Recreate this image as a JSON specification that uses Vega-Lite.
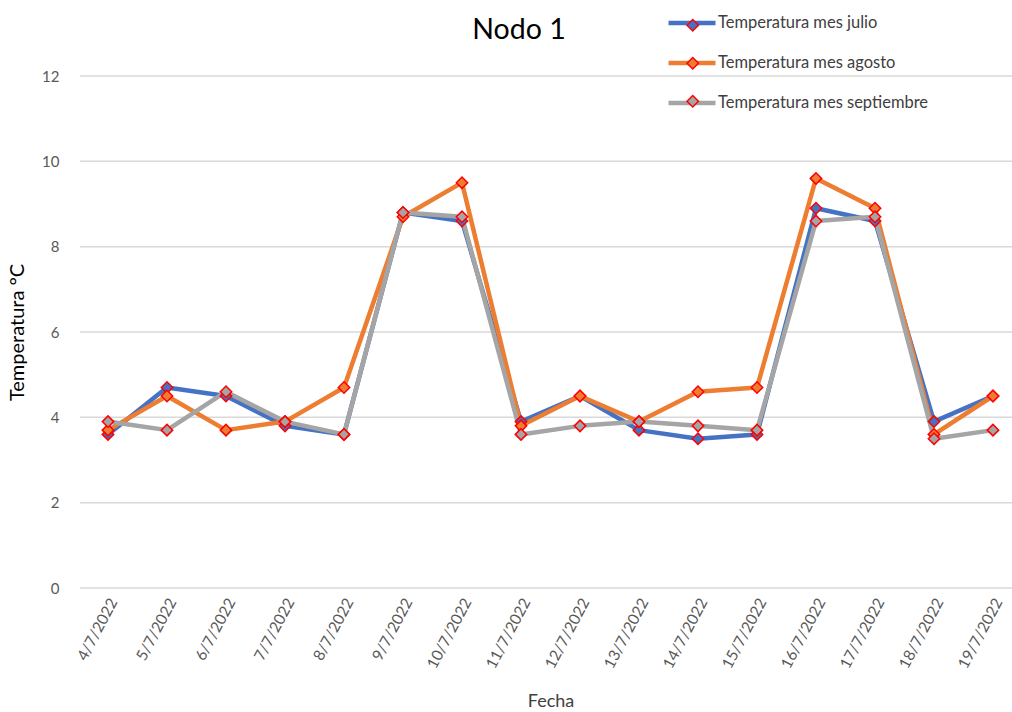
{
  "$schema": "https://vega.github.io/schema/vega-lite/v6.json",
  "autosize": {"type": "none"},
  "padding": {"left": 80, "top": 76, "right": 0, "bottom": 124},
  "width": 932,
  "height": 512,
  "background": "white",
  "config": {"font": "Lato", "view": {"stroke": null}},
  "title": {"text": "Nodo 1", "fontSize": 28.5, "fontWeight": "normal", "color": "#000000", "anchor": "middle", "dx": -27, "offset": -47, "font": "Lato"},
  "data": {"values": [
    {"fecha": "4/7/2022", "serie": "Temperatura mes julio", "temp": 3.6},
    {"fecha": "5/7/2022", "serie": "Temperatura mes julio", "temp": 4.7},
    {"fecha": "6/7/2022", "serie": "Temperatura mes julio", "temp": 4.5},
    {"fecha": "7/7/2022", "serie": "Temperatura mes julio", "temp": 3.8},
    {"fecha": "8/7/2022", "serie": "Temperatura mes julio", "temp": 3.6},
    {"fecha": "9/7/2022", "serie": "Temperatura mes julio", "temp": 8.8},
    {"fecha": "10/7/2022", "serie": "Temperatura mes julio", "temp": 8.6},
    {"fecha": "11/7/2022", "serie": "Temperatura mes julio", "temp": 3.9},
    {"fecha": "12/7/2022", "serie": "Temperatura mes julio", "temp": 4.5},
    {"fecha": "13/7/2022", "serie": "Temperatura mes julio", "temp": 3.7},
    {"fecha": "14/7/2022", "serie": "Temperatura mes julio", "temp": 3.5},
    {"fecha": "15/7/2022", "serie": "Temperatura mes julio", "temp": 3.6},
    {"fecha": "16/7/2022", "serie": "Temperatura mes julio", "temp": 8.9},
    {"fecha": "17/7/2022", "serie": "Temperatura mes julio", "temp": 8.6},
    {"fecha": "18/7/2022", "serie": "Temperatura mes julio", "temp": 3.9},
    {"fecha": "19/7/2022", "serie": "Temperatura mes julio", "temp": 4.5},
    {"fecha": "4/7/2022", "serie": "Temperatura mes agosto", "temp": 3.7},
    {"fecha": "5/7/2022", "serie": "Temperatura mes agosto", "temp": 4.5},
    {"fecha": "6/7/2022", "serie": "Temperatura mes agosto", "temp": 3.7},
    {"fecha": "7/7/2022", "serie": "Temperatura mes agosto", "temp": 3.9},
    {"fecha": "8/7/2022", "serie": "Temperatura mes agosto", "temp": 4.7},
    {"fecha": "9/7/2022", "serie": "Temperatura mes agosto", "temp": 8.7},
    {"fecha": "10/7/2022", "serie": "Temperatura mes agosto", "temp": 9.5},
    {"fecha": "11/7/2022", "serie": "Temperatura mes agosto", "temp": 3.8},
    {"fecha": "12/7/2022", "serie": "Temperatura mes agosto", "temp": 4.5},
    {"fecha": "13/7/2022", "serie": "Temperatura mes agosto", "temp": 3.9},
    {"fecha": "14/7/2022", "serie": "Temperatura mes agosto", "temp": 4.6},
    {"fecha": "15/7/2022", "serie": "Temperatura mes agosto", "temp": 4.7},
    {"fecha": "16/7/2022", "serie": "Temperatura mes agosto", "temp": 9.6},
    {"fecha": "17/7/2022", "serie": "Temperatura mes agosto", "temp": 8.9},
    {"fecha": "18/7/2022", "serie": "Temperatura mes agosto", "temp": 3.6},
    {"fecha": "19/7/2022", "serie": "Temperatura mes agosto", "temp": 4.5},
    {"fecha": "4/7/2022", "serie": "Temperatura mes septiembre", "temp": 3.9},
    {"fecha": "5/7/2022", "serie": "Temperatura mes septiembre", "temp": 3.7},
    {"fecha": "6/7/2022", "serie": "Temperatura mes septiembre", "temp": 4.6},
    {"fecha": "7/7/2022", "serie": "Temperatura mes septiembre", "temp": 3.9},
    {"fecha": "8/7/2022", "serie": "Temperatura mes septiembre", "temp": 3.6},
    {"fecha": "9/7/2022", "serie": "Temperatura mes septiembre", "temp": 8.8},
    {"fecha": "10/7/2022", "serie": "Temperatura mes septiembre", "temp": 8.7},
    {"fecha": "11/7/2022", "serie": "Temperatura mes septiembre", "temp": 3.6},
    {"fecha": "12/7/2022", "serie": "Temperatura mes septiembre", "temp": 3.8},
    {"fecha": "13/7/2022", "serie": "Temperatura mes septiembre", "temp": 3.9},
    {"fecha": "14/7/2022", "serie": "Temperatura mes septiembre", "temp": 3.8},
    {"fecha": "15/7/2022", "serie": "Temperatura mes septiembre", "temp": 3.7},
    {"fecha": "16/7/2022", "serie": "Temperatura mes septiembre", "temp": 8.6},
    {"fecha": "17/7/2022", "serie": "Temperatura mes septiembre", "temp": 8.7},
    {"fecha": "18/7/2022", "serie": "Temperatura mes septiembre", "temp": 3.5},
    {"fecha": "19/7/2022", "serie": "Temperatura mes septiembre", "temp": 3.7}
  ]},
  "layer": [
    {
      "data": {"values": [{"grid": 0}, {"grid": 2}, {"grid": 4}, {"grid": 6}, {"grid": 8}, {"grid": 10}, {"grid": 12}]},
      "mark": {"type": "rule", "color": "#d9d9d9", "strokeWidth": 1.5},
      "encoding": {
        "y": {
          "field": "grid", "type": "quantitative",
          "scale": {"domain": [0, 12], "nice": false},
          "axis": {
            "title": "Temperatura °C", "titleFontSize": 20, "titleFontWeight": "normal", "titleColor": "#000000", "titlePadding": 14,
            "values": [0, 2, 4, 6, 8, 10, 12], "labelFontSize": 15, "labelColor": "#595959", "labelPadding": 21,
            "ticks": false, "domain": false, "grid": false
          }
        }
      }
    },
    {
      "mark": {"type": "line", "strokeWidth": 4.5, "strokeJoin": "round"},
      "encoding": {
        "x": {
          "field": "fecha", "type": "ordinal", "sort": null,
          "scale": {"type": "point", "range": [28, 913], "padding": 0},
          "axis": {
            "title": "Fecha", "titleFontSize": 18, "titleFontWeight": "normal", "titleColor": "#404040", "titlePadding": 22,
            "labelAngle": -62, "labelFontSize": 15.5, "labelColor": "#595959", "labelPadding": 11, "labelOffset": 5,
            "ticks": false, "domain": false, "grid": false
          }
        },
        "y": {
          "field": "temp", "type": "quantitative",
          "axis": {
            "title": "Temperatura °C", "titleFontSize": 20, "titleFontWeight": "normal", "titleColor": "#000000", "titlePadding": 14,
            "values": [0, 2, 4, 6, 8, 10, 12], "labelFontSize": 15, "labelColor": "#595959", "labelPadding": 21,
            "ticks": false, "domain": false, "grid": false
          }
        },
        "color": {
          "field": "serie", "type": "nominal",
          "scale": {"domain": ["Temperatura mes julio", "Temperatura mes agosto", "Temperatura mes septiembre"], "range": ["#4472C4", "#ED7D31", "#A5A5A5"]},
          "legend": {
            "title": null, "orient": "none", "legendX": 586, "legendY": -79,
            "symbolType": "stroke", "symbolSize": 2209, "symbolStrokeWidth": 4.5,
            "labelFontSize": 16.5, "labelColor": "#404040", "labelOffset": 0, "rowPadding": 5, "labelLimit": 400
          }
        }
      }
    },
    {
      "mark": {"type": "point", "shape": "diamond", "filled": true, "size": 130, "stroke": "#FF0000", "strokeWidth": 1.5, "opacity": 1},
      "encoding": {
        "x": {"field": "fecha", "type": "ordinal", "sort": null},
        "y": {"field": "temp", "type": "quantitative"},
        "fill": {
          "field": "serie", "type": "nominal",
          "scale": {"domain": ["Temperatura mes agosto", "Temperatura mes julio", "Temperatura mes septiembre"], "range": ["#ED7D31", "#4472C4", "#A5A5A5"]},
          "legend": {
            "title": null, "orient": "none", "legendX": 604.5, "legendY": -59,
            "values": ["Temperatura mes julio", "Temperatura mes agosto", "Temperatura mes septiembre"],
            "symbolType": "diamond", "symbolSize": 130, "symbolStrokeColor": "#FF0000", "symbolStrokeWidth": 1.5, "symbolOpacity": 1,
            "labelExpr": "''", "labelFontSize": 16.5, "rowPadding": 20, "labelLimit": 400
          }
        }
      }
    }
  ]
}
